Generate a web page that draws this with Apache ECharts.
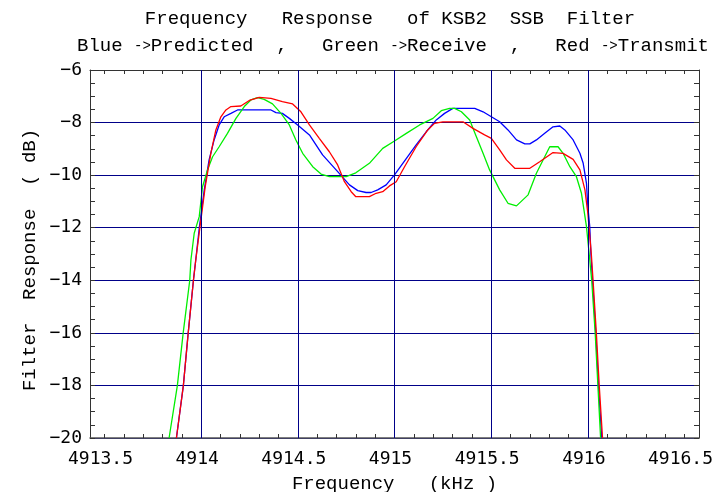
<!DOCTYPE html>
<html>
<head>
<meta charset="utf-8">
<script src="https://cdn.jsdelivr.net/npm/echarts@6/dist/echarts.min.js"></script>
<style>
html,body{margin:0;padding:0;background:#fff;}
#chart{width:715px;height:492px;}
</style>
</head>
<body>
<div id="chart"></div>
<script>
// ---- Data ----
const predictedFreq = [4913.872,4913.908,4913.933,4913.96,4913.972,4913.99,4914.016,4914.041,4914.067,4914.093,4914.119,4914.154,4914.188,4914.361,4914.387,4914.42,4914.456,4914.499,4914.56,4914.628,4914.698,4914.767,4914.81,4914.853,4914.879,4914.913,4914.957,4915.0,4915.043,4915.112,4915.164,4915.216,4915.259,4915.302,4915.415,4915.458,4915.501,4915.544,4915.587,4915.631,4915.674,4915.70,4915.734,4915.777,4915.82,4915.855,4915.881,4915.924,4915.959,4915.976,4915.993,4916.0,4916.01,4916.016,4916.024,4916.041,4916.055,4916.072];
const predictedDb = [-20,-18,-16,-14,-13.23,-12.02,-10.56,-9.42,-8.66,-8.09,-7.78,-7.65,-7.52,-7.52,-7.62,-7.65,-7.84,-8.09,-8.47,-9.23,-9.80,-10.37,-10.59,-10.66,-10.66,-10.56,-10.37,-9.99,-9.55,-8.85,-8.35,-7.90,-7.65,-7.46,-7.46,-7.59,-7.78,-7.97,-8.28,-8.66,-8.81,-8.81,-8.66,-8.41,-8.16,-8.13,-8.28,-8.66,-9.17,-9.55,-10.31,-11.20,-11.96,-13.0,-14,-16,-18,-20];

const receiveFreq = [4913.834,4913.877,4913.907,4913.941,4913.947,4913.964,4913.99,4914.007,4914.033,4914.059,4914.093,4914.136,4914.18,4914.223,4914.257,4914.292,4914.326,4914.369,4914.413,4914.456,4914.49,4914.525,4914.577,4914.62,4914.663,4914.75,4914.80,4914.87,4914.939,4915.0,4915.061,4915.13,4915.199,4915.242,4915.285,4915.311,4915.346,4915.389,4915.423,4915.458,4915.492,4915.544,4915.587,4915.631,4915.691,4915.734,4915.777,4915.803,4915.846,4915.872,4915.907,4915.941,4915.967,4915.993,4916.01,4916.02,4916.038,4916.052,4916.066];
const receiveDb = [-20,-18,-16,-14,-13.23,-12.21,-11.58,-10.44,-9.80,-9.30,-8.92,-8.41,-7.84,-7.39,-7.14,-7.05,-7.12,-7.29,-7.65,-8.09,-8.66,-9.17,-9.68,-9.96,-10.06,-10.06,-9.91,-9.55,-8.98,-8.70,-8.41,-8.09,-7.84,-7.55,-7.46,-7.46,-7.59,-7.90,-8.53,-9.17,-9.80,-10.56,-11.07,-11.17,-10.75,-9.93,-9.30,-8.92,-8.92,-9.17,-9.68,-10.06,-10.69,-11.96,-13.23,-14,-16,-18,-20];

const transmitFreq = [4913.872,4913.908,4913.933,4913.96,4913.972,4913.993,4914.021,4914.05,4914.076,4914.102,4914.128,4914.154,4914.205,4914.249,4914.30,4914.361,4914.42,4914.473,4914.516,4914.56,4914.611,4914.663,4914.706,4914.741,4914.776,4914.80,4914.87,4914.905,4914.939,4914.974,4915.009,4915.052,4915.112,4915.172,4915.207,4915.25,4915.354,4915.406,4915.466,4915.501,4915.544,4915.579,4915.622,4915.70,4915.751,4915.82,4915.872,4915.924,4915.959,4915.985,4916.0,4916.018,4916.027,4916.044,4916.059,4916.076];
const transmitDb = [-20,-18,-16,-14,-13.23,-12.02,-10.44,-9.17,-8.28,-7.78,-7.52,-7.39,-7.37,-7.16,-7.04,-7.08,-7.20,-7.29,-7.59,-8.09,-8.60,-9.11,-9.61,-10.25,-10.63,-10.82,-10.82,-10.69,-10.63,-10.41,-10.25,-9.68,-8.92,-8.28,-8.03,-7.97,-7.97,-8.22,-8.47,-8.60,-9.04,-9.42,-9.74,-9.74,-9.49,-9.14,-9.17,-9.40,-9.80,-10.56,-11.45,-13.0,-14,-16,-18,-20];

const xTickLabels = [4913.5, 4914, 4914.5, 4915, 4915.5, 4916, 4916.5];
const xGridLines = [4914, 4914.5, 4915, 4915.5, 4916];
const yTickLabels = [-20, -18, -16, -14, -12, -10, -8, -6];

const xMin = 4913.425, xMax = 4916.575;
const yMin = -20, yMax = -6;

// minor tick positions every 0.1 kHz between first and last label
const xMinorTicks = [];
for (let i = 0; i <= Math.round((xTickLabels[xTickLabels.length-1] - xTickLabels[0]) * 10); i++) {
  xMinorTicks.push(Math.round((xTickLabels[0] + i * 0.1) * 10) / 10);
}

function pairs(xs, ys) { return xs.map((x, i) => [x, ys[i]]); }

const MONO = '"Liberation Mono", "DejaVu Sans Mono", monospace';
const LBL = '"DejaVu Sans Mono", monospace';
const axisCol = '#333';
const gridCol = '#000088';

const chart = echarts.init(document.getElementById('chart'), null, {renderer: 'canvas'});

const option = {
  animation: false,
  backgroundColor: '#fff',
  grid: { left: 90, right: 16, top: 70, bottom: 54, containLabel: false, outerBoundsMode: 'none' },
  graphic: [
    { type: 'text', x: 390, y: 19, style: { text: 'Frequency   Response   of KSB2  SSB  Filter', font: '19px ' + MONO, fill: '#000', align: 'center', verticalAlign: 'middle' } },
    { type: 'text', x: 393, y: 46, style: {
        text: 'Blue {s|->}Predicted  ,   Green {s|->}Receive  ,   Red {s|->}Transmit',
        font: '19px ' + MONO, fill: '#000', align: 'center', verticalAlign: 'middle',
        rich: { s: { font: '14px ' + MONO, fill: '#000' } } } },
    { type: 'text', x: 30, y: 260, rotation: Math.PI / 2, style: {
        text: 'Filter  Response  ( dB)', font: '19px ' + MONO, fill: '#000', align: 'center', verticalAlign: 'middle' } }
  ],
  xAxis: [
    {
      type: 'value', position: 'bottom', min: xMin, max: xMax,
      name: 'Frequency   (kHz )', nameLocation: 'middle', nameGap: 36,
      nameTextStyle: { fontFamily: MONO, fontSize: 19, color: '#000' },
      axisLine: { show: true, onZero: false, lineStyle: { color: '#555', width: 1.5 } },
      axisTick: { show: true, inside: true, length: 4, customValues: xMinorTicks, lineStyle: { color: axisCol } },
      axisLabel: { show: true, customValues: xTickLabels, margin: 12, fontFamily: LBL, fontSize: 18, color: '#000',
        padding: [0, 8, 0, 0],
        formatter: v => String(Math.round(v * 10) / 10) },
      splitLine: { show: false }
    },
    {
      type: 'value', position: 'top', min: xMin, max: xMax,
      axisLine: { show: true, onZero: false, lineStyle: { color: axisCol, width: 1 } },
      axisTick: { show: true, inside: true, length: 4, customValues: xMinorTicks, lineStyle: { color: axisCol } },
      axisLabel: { show: false },
      splitLine: { show: false }
    }
  ],
  yAxis: [
    {
      type: 'value', position: 'left', min: yMin, max: yMax, interval: 2,
      axisLine: { show: true, onZero: false, lineStyle: { color: axisCol, width: 1 } },
      axisTick: { show: true, inside: true, length: 5, lineStyle: { color: axisCol } },
      minorTick: { show: true, splitNumber: 4, length: 5, lineStyle: { color: axisCol } },
      axisLabel: { margin: 8, fontFamily: LBL, fontSize: 18, color: '#000',
        formatter: v => (v < 0 ? '\u2212' + (-v) : String(v)) },
      splitLine: { show: true, lineStyle: { color: gridCol, width: 1 } }
    },
    {
      type: 'value', position: 'right', min: yMin, max: yMax, interval: 2,
      axisLine: { show: true, onZero: false, lineStyle: { color: axisCol, width: 1 } },
      axisTick: { show: true, inside: true, length: 5, lineStyle: { color: axisCol } },
      minorTick: { show: true, splitNumber: 4, length: 5, lineStyle: { color: axisCol } },
      axisLabel: { show: false },
      splitLine: { show: false }
    }
  ],
  series: [
    {
      name: 'gridX', type: 'line', data: [], xAxisIndex: 0, yAxisIndex: 0, silent: true,
      markLine: { silent: true, symbol: ['none', 'none'], label: { show: false },
        lineStyle: { color: gridCol, width: 1, type: 'solid' },
        emphasis: { disabled: true },
        data: xGridLines.map(v => ({ xAxis: v })) }
    },
    { name: 'Predicted', type: 'line', data: pairs(predictedFreq, predictedDb), showSymbol: false, clip: true,
      lineStyle: { color: '#0000ff', width: 1.3 }, itemStyle: { color: '#0000ff' } },
    { name: 'Receive', type: 'line', data: pairs(receiveFreq, receiveDb), showSymbol: false, clip: true,
      lineStyle: { color: '#00ee00', width: 1.3 }, itemStyle: { color: '#00ee00' } },
    { name: 'Transmit', type: 'line', data: pairs(transmitFreq, transmitDb), showSymbol: false, clip: true,
      lineStyle: { color: '#ff0000', width: 1.3 }, itemStyle: { color: '#ff0000' } }
  ]
};
chart.setOption(option);
</script>
</body>
</html>
